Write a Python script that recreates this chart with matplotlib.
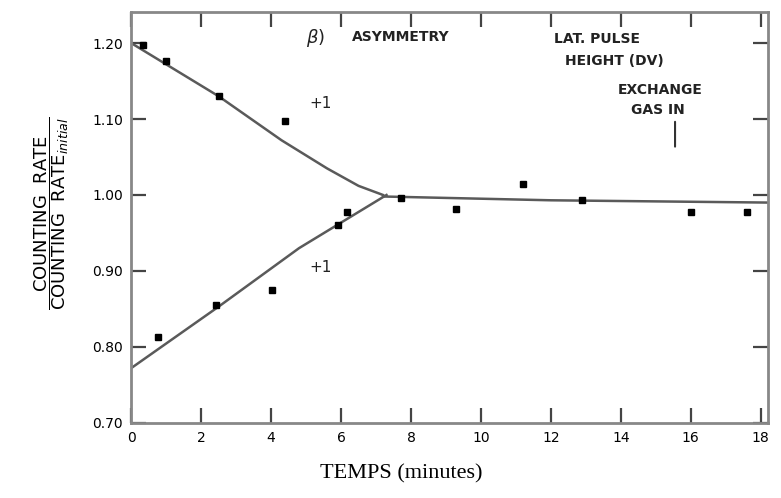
import matplotlib.pyplot as plt
import numpy as np

# courbes tracees a la main (asymetrie / hauteur d'impulsion)
upper_x = [0.0, 2.5, 4.3, 5.6, 6.5, 7.2]
upper_y = [1.200, 1.130, 1.072, 1.035, 1.012, 1.000]
lower_x = [0.0, 2.5, 4.8, 6.3, 7.3]
lower_y = [0.772, 0.853, 0.930, 0.972, 1.000]
flat_x = [7.2, 12.0, 18.2]
flat_y = [0.998, 0.993, 0.990]

# points mesures
pts_up_x = [0.35, 1.0, 2.5, 4.4]
pts_up_y = [1.197, 1.176, 1.130, 1.097]
pts_flat_x = [7.7, 9.3, 11.2, 12.9, 16.0, 17.6]
pts_flat_y = [0.996, 0.981, 1.014, 0.994, 0.977, 0.977]
pts_low_x = [0.77, 2.43, 4.03, 5.9, 6.17]
pts_low_y = [0.813, 0.855, 0.875, 0.961, 0.978]

yticks = [0.70, 0.80, 0.90, 1.00, 1.10, 1.20]
ytick_labels = ["0.70", "0.80", "0.90", "1.00", "1.10", "1.20"]
xticks = [0, 2, 4, 6, 8, 10, 12, 14, 16, 18]

fig = plt.figure(figsize=(7.81, 4.98), dpi=100)
ax = fig.add_axes([0.168, 0.151, 0.815, 0.825])

lc = "#5a5a5a"
ax.plot(upper_x, upper_y, color=lc, lw=1.8)
ax.plot(lower_x, lower_y, color=lc, lw=1.8)
ax.plot(flat_x, flat_y, color=lc, lw=1.8)

ax.plot(pts_up_x, pts_up_y, "s", color="black", ms=4)
ax.plot(pts_flat_x, pts_flat_y, "s", color="black", ms=5)
ax.plot(pts_low_x, pts_low_y, "s", color="black", ms=5)

ax.set_xlim(0, 18.2)
ax.set_ylim(0.70, 1.241)
ax.set_xticks(xticks)
ax.set_xticklabels([str(v) for v in xticks], fontsize=10)
ax.set_yticks(yticks)
ax.set_yticklabels(ytick_labels, fontsize=10)
ax.tick_params(direction="in", length=11, width=1.6, color="#444",
               top=True, right=True, pad=6)
for s in ax.spines.values():
    s.set_color("#888888")
    s.set_linewidth(2)

txt = dict(fontsize=10, color="#222", fontweight="bold")
ax.text(5.0, 1.207, r"$\beta$)", fontsize=13, color="#222", va="center")
ax.text(6.3, 1.208, "ASYMMETRY", va="center", **txt)
ax.text(12.1, 1.205, "LAT. PULSE", va="center", **txt)
ax.text(12.4, 1.177, "HEIGHT (DV)", va="center", **txt)
ax.text(13.9, 1.138, "EXCHANGE", va="center", **txt)
ax.text(14.3, 1.112, "GAS IN", va="center", **txt)
ax.annotate("", xy=(15.55, 1.06), xytext=(15.55, 1.10),
            arrowprops=dict(arrowstyle="-", color="#333", lw=1.5))
ax.text(5.1, 1.12, "+1", fontsize=11, color="#222", va="center")
ax.text(5.1, 0.905, "+1", fontsize=11, color="#222", va="center")

ax.set_xlabel("TEMPS (minutes)", fontsize=16, family="Liberation Serif")
ax.xaxis.set_label_coords(0.425, -0.1)
ax.set_ylabel(r"$\dfrac{\mathrm{COUNTING\ \ RATE}}{\mathrm{COUNTING\ \ RATE}_{initial}}$",
              fontsize=13)
ax.yaxis.set_label_coords(-0.095, 0.51)

fig.savefig("out.png", dpi=100)
